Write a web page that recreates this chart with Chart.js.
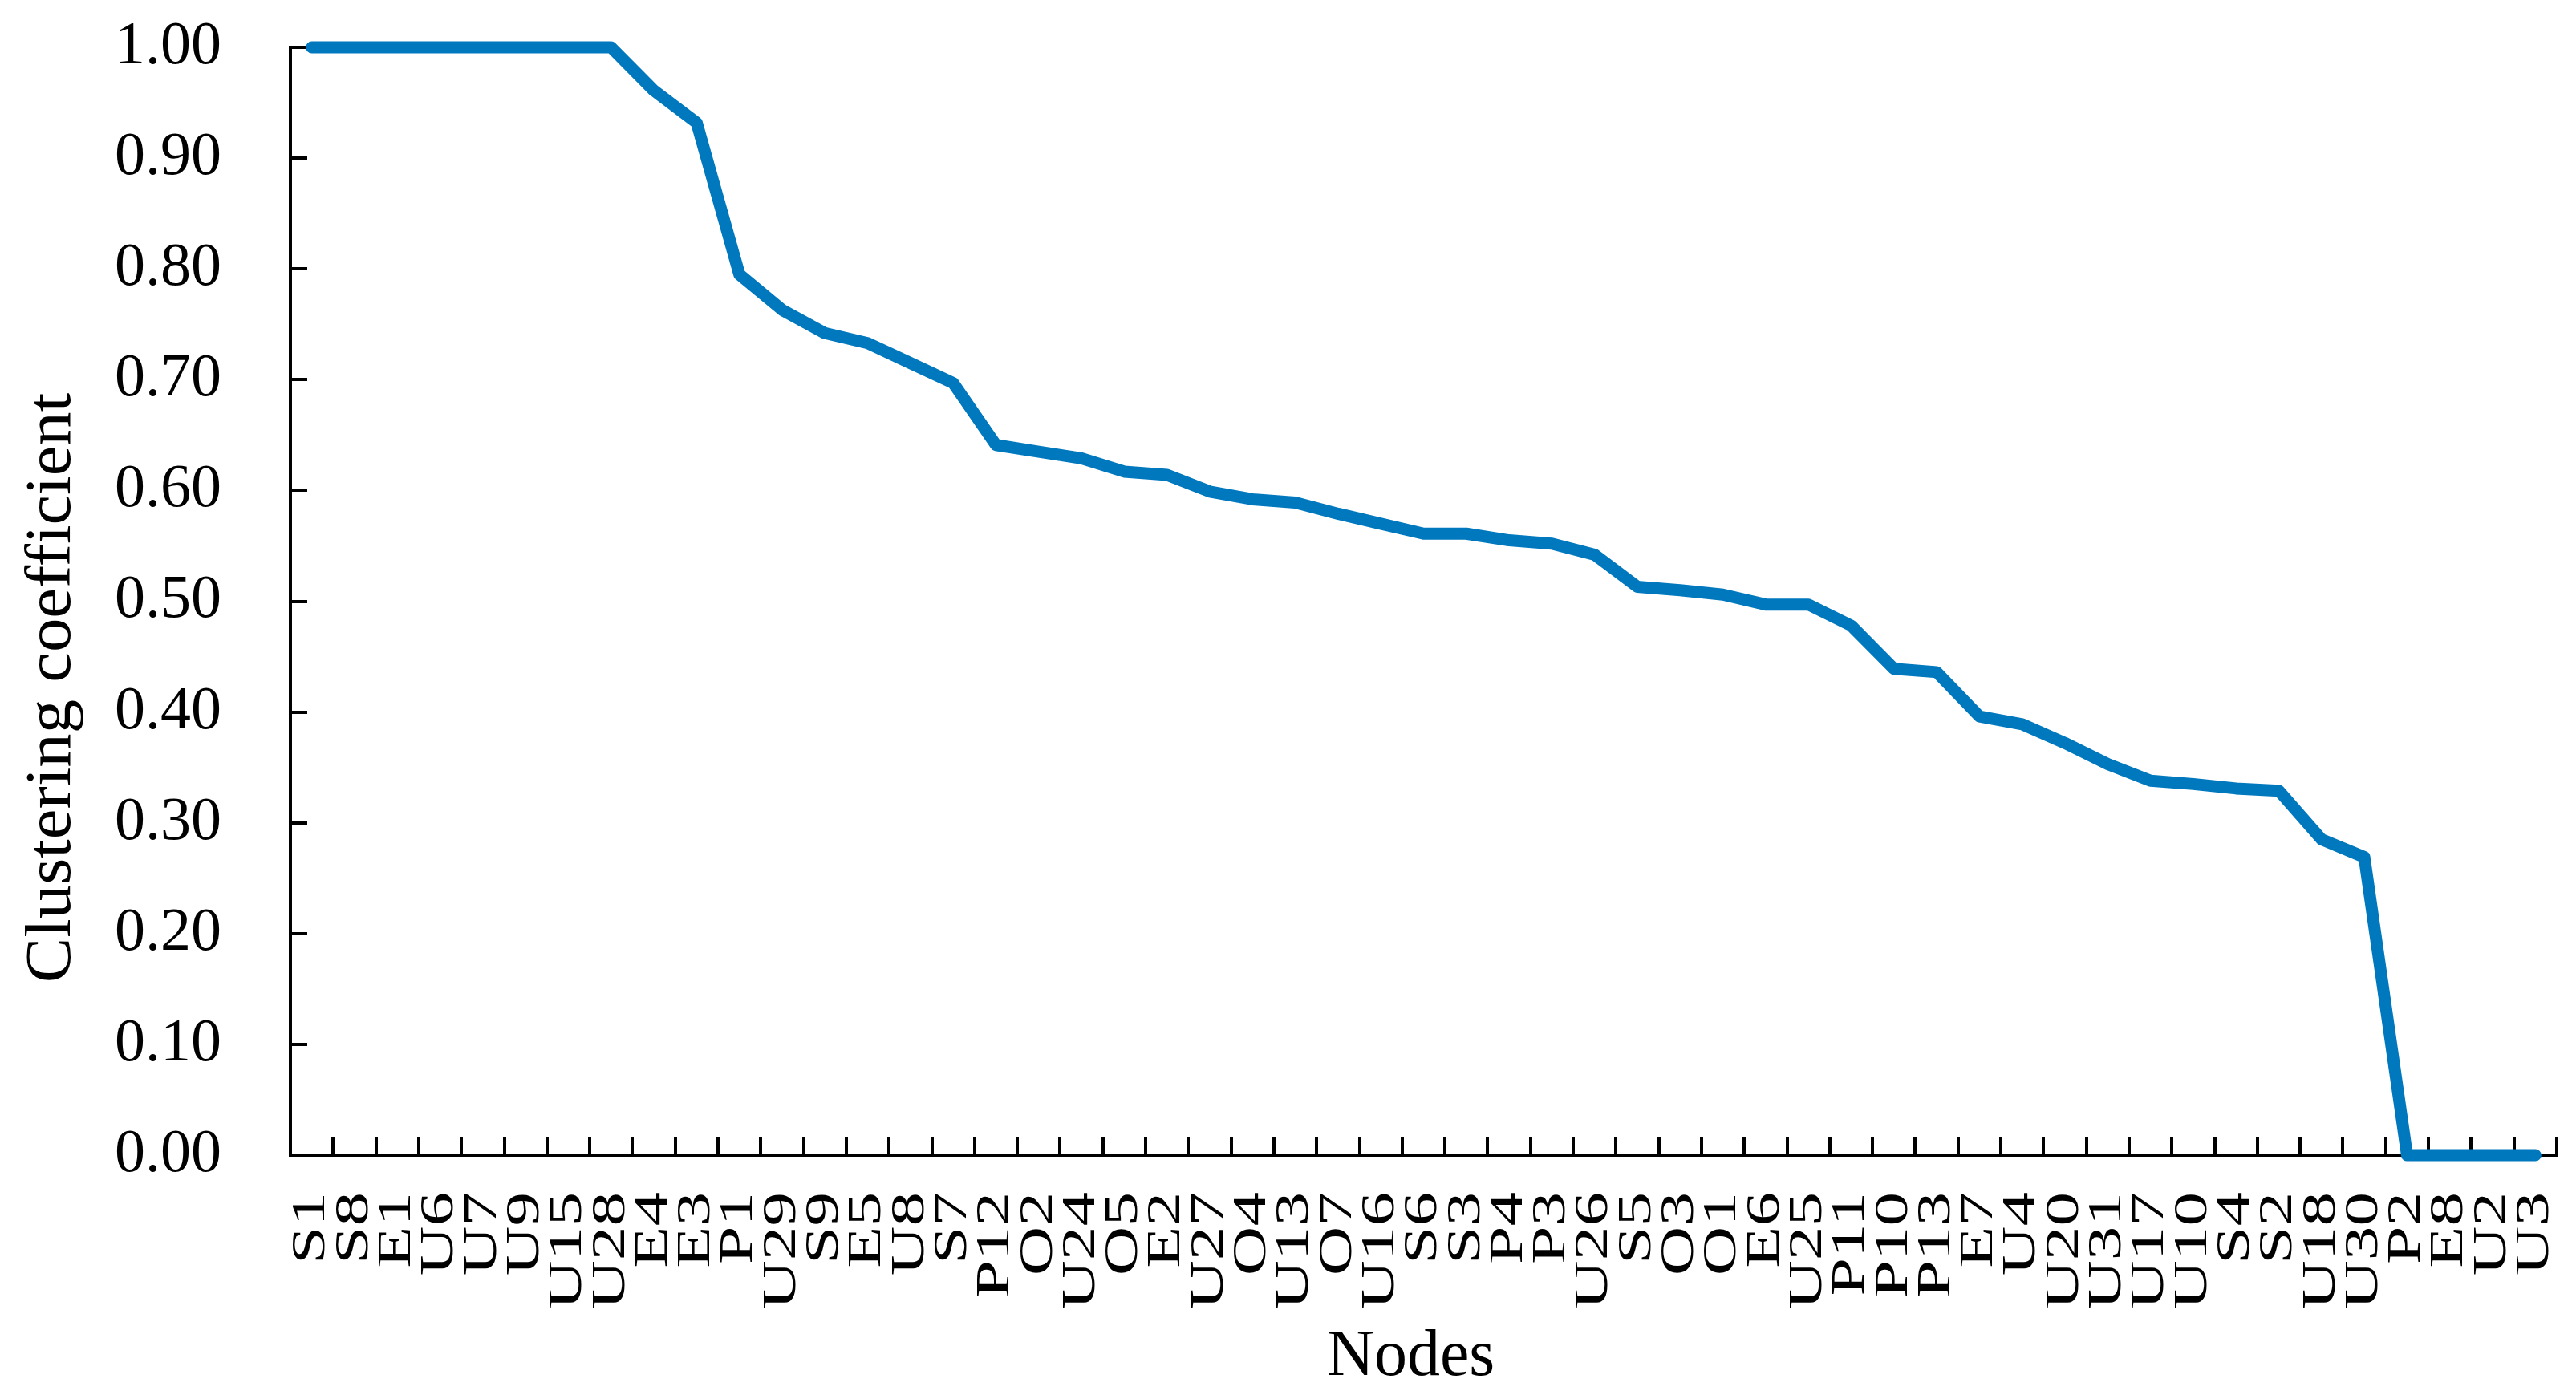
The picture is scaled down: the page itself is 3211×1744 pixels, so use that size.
<!DOCTYPE html>
<html>
<head>
<meta charset="utf-8">
<script src="https://cdn.jsdelivr.net/npm/chart.js@4.4.0/dist/chart.umd.min.js"></script>
<style>
  html, body { margin: 0; padding: 0; background: #fff; }
  #wrap { width: 3211px; height: 1744px; }
</style>
</head>
<body>
<div id="wrap"><canvas id="chart" width="3211" height="1744"></canvas></div>
<script>
// node names along the x axis, in the order shown
const nodes = ['S1', 'S8', 'E1', 'U6', 'U7', 'U9', 'U15', 'U28', 'E4', 'E3', 'P1', 'U29', 'S9', 'E5', 'U8', 'S7',
  'P12', 'O2', 'U24', 'O5', 'E2', 'U27', 'O4', 'U13', 'O7', 'U16', 'S6', 'S3', 'P4', 'P3', 'U26', 'S5', 'O3', 'O1',
  'E6', 'U25', 'P11', 'P10', 'P13', 'E7', 'U4', 'U20', 'U31', 'U17', 'U10', 'S4', 'S2', 'U18', 'U30', 'P2', 'E8', 'U2', 'U3'];

// clustering coefficient per node
const coeff = [1.00, 1.00, 1.00, 1.00, 1.00, 1.00, 1.00, 1.00, 0.961, 0.932, 0.795, 0.763, 0.742, 0.733, 0.715, 0.697,
  0.641, 0.635, 0.629, 0.617, 0.614, 0.599, 0.592, 0.589, 0.579, 0.570, 0.561, 0.561, 0.555, 0.552, 0.542, 0.513, 0.510, 0.506,
  0.497, 0.497, 0.478, 0.439, 0.436, 0.396, 0.389, 0.372, 0.353, 0.338, 0.335, 0.331, 0.329, 0.285, 0.269, 0.0, 0.0, 0.0, 0.0];

const yTicks = [0, 0.1, 0.2, 0.3, 0.4, 0.5, 0.6, 0.7, 0.8, 0.9, 1.0];
const xTitle = 'Nodes';
const yTitle = 'Clustering coefficient';

const serif = 'Liberation Serif';

// the rotated texts in the original are drawn wider along their baseline,
// so draw them here by hand with a horizontal stretch
const axisText = {
  id: 'axisText',
  afterDraw(chart) {
    const c = chart.ctx;
    const area = chart.chartArea;
    const xs = chart.scales.x;
    c.save();
    c.fillStyle = '#000';
    c.textAlign = 'right';
    c.textBaseline = 'middle';
    c.font = '60px "' + serif + '"';
    xs.ticks.forEach((t, i) => {
      const x = xs.getPixelForTick(i);
      c.save();
      c.translate(x, area.bottom + 46);
      c.rotate(-Math.PI / 2);
      c.scale(1.42, 1);
      c.fillText(nodes[i], 0, 0);
      c.restore();
    });
    c.textAlign = 'center';
    c.font = '82px "' + serif + '"';
    c.fillText(xTitle, (area.left + area.right) / 2 - 16, 1692);
    // y axis title
    c.font = '80px "' + serif + '"';
    c.translate(66, (area.top + area.bottom) / 2 + 108);
    c.rotate(-Math.PI / 2);
    c.scale(1.06, 1);
    c.fillText(yTitle, 0, 0);
    c.restore();
  }
};

const ctx = document.getElementById('chart').getContext('2d');
new Chart(ctx, {
  type: 'line',
  data: {
    labels: nodes,
    datasets: [{
      data: coeff,
      borderColor: '#0078BE',
      borderWidth: 15,
      borderJoinStyle: 'round',
      borderCapStyle: 'round',
      pointRadius: 0,
      tension: 0,
      fill: false,
      clip: false
    }]
  },
  plugins: [axisText],
  options: {
    responsive: false,
    animation: false,
    layout: { padding: { top: 59, right: 24, bottom: 0, left: 0 } },
    plugins: {
      legend: { display: false },
      tooltip: { enabled: false }
    },
    scales: {
      x: {
        type: 'category',
        offset: true,
        afterFit: (s) => { s.height = 304; s.paddingLeft = 0; s.paddingRight = 0; },
        border: { display: true, color: '#000', width: 4 },
        grid: {
          offset: true,
          drawOnChartArea: false,
          drawTicks: true,
          tickLength: -23,
          color: '#000',
          lineWidth: 4
        },
        ticks: { display: false, autoSkip: false },
        title: { display: false }
      },
      y: {
        min: 0,
        max: 1,
        afterFit: (s) => { s.width = 362; s.paddingTop = 0; s.paddingBottom = 0; },
        afterBuildTicks: (s) => { s.ticks = yTicks.map(v => ({ value: v })); },
        border: { display: true, color: '#000', width: 4 },
        grid: {
          drawOnChartArea: false,
          drawTicks: true,
          tickLength: -21,
          color: '#000',
          lineWidth: 4
        },
        ticks: {
          padding: 107,
          color: '#000',
          font: { family: serif, size: 76 },
          callback: (v) => Number(v).toFixed(2)
        },
        title: { display: false }
      }
    }
  }
});
</script>
</body>
</html>
